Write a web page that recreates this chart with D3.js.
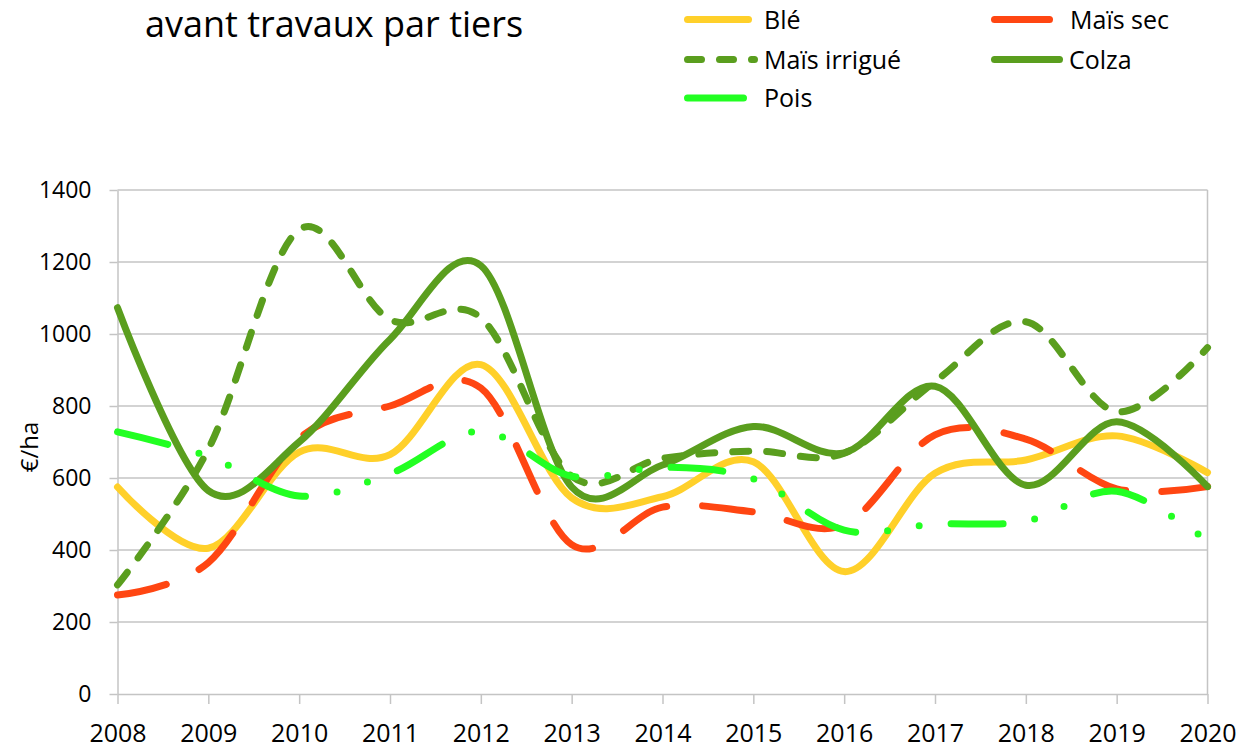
<!DOCTYPE html>
<html lang="fr">
<head>
<meta charset="utf-8">
<title>avant travaux par tiers</title>
<script src="https://cdn.jsdelivr.net/npm/d3@7"></script>
<style>
  body { margin: 0; background: #fff; }
  svg text { font-family: "Open Sans", sans-serif; fill: #000; }
</style>
</head>
<body>
<div id="chart"></div>
<script>
// Values (€/ha per year)
const years = [2008, 2009, 2010, 2011, 2012, 2013, 2014, 2015, 2016, 2017, 2018, 2019, 2020];
const ble = [575, 405, 672, 665, 915, 545, 548, 645, 340, 613, 650, 717, 615];
const maisSec = [275, 365, 710, 800, 850, 415, 519, 506, 470, 720, 708, 570, 576];
const maisIrrigue = [303, 680, 1290, 1040, 1045, 605, 655, 675, 669, 868, 1034, 784, 962];
const colza = [1073, 565, 700, 985, 1190, 575, 636, 743, 670, 855, 580, 756, 576];
const pois = [728, 660, 550, 612, 730, 605, 630, 598, 455, 472, 480, 563, 425];
const yTicks = [0, 200, 400, 600, 800, 1000, 1200, 1400];

const width = 1248;
const height = 751;
const plot = { left: 117.5, right: 1207.5, top: 190, bottom: 694 };
const gridColor = "#c4c4c4";

// one entry per series, in drawing order (last one ends on top)
const series = [
  { name: "Blé", values: ble, color: "#ffd02a", dash: null },
  { name: "Maïs sec", values: maisSec, color: "#ff4612", dash: "50,36" },
  { name: "Maïs irrigué", values: maisIrrigue, color: "#5a9e1e", dash: "16,18" },
  { name: "Colza", values: colza, color: "#5a9e1e", dash: null },
  { name: "Pois", values: pois, color: "#22ff22", dash: "52,32,0,32,0,32" }
];

// where each legend entry sits (line start/end, text start, row)
const legendLayout = [
  { x1: 687.5, x2: 748.5, tx: 764, y: 19.5 },
  { x1: 994.5, x2: 1049.5, tx: 1070, y: 19.5 },
  { x1: 687.5, x2: 754.5, tx: 764, y: 59.5 },
  { x1: 994.5, x2: 1059.5, tx: 1069, y: 59.5 },
  { x1: 687.5, x2: 743.5, tx: 764, y: 98 }
];

const svg = d3.select("#chart")
  .append("svg")
  .attr("width", width)
  .attr("height", height);

const x = d3.scaleLinear().domain([2008, 2020]).range([plot.left, plot.right]);
const y = d3.scaleLinear().domain([0, 1400]).range([plot.bottom, plot.top]);

// horizontal grid lines
svg.append("g")
  .selectAll("line")
  .data(yTicks.filter((d) => d > 0))
  .join("line")
  .attr("x1", plot.left)
  .attr("x2", plot.right)
  .attr("y1", (d) => y(d))
  .attr("y2", (d) => y(d))
  .attr("stroke", gridColor)
  .attr("stroke-width", 1.5);

// right edge of the plot
svg.append("line")
  .attr("x1", plot.right).attr("x2", plot.right)
  .attr("y1", plot.top).attr("y2", plot.bottom)
  .attr("stroke", gridColor)
  .attr("stroke-width", 1.5);

// y axis
const yAxis = svg.append("g")
  .attr("transform", `translate(${plot.left},0)`)
  .call(d3.axisLeft(y).tickValues(yTicks).tickFormat(d3.format("d"))
    .tickSize(8).tickSizeOuter(0).tickPadding(18));

// x axis
const xAxis = svg.append("g")
  .attr("transform", `translate(0,${plot.bottom})`)
  .call(d3.axisBottom(x).tickValues(years).tickFormat(d3.format("d"))
    .tickSize(10).tickSizeOuter(0).tickPadding(20));

[yAxis, xAxis].forEach((ax) => {
  ax.select(".domain").attr("stroke", gridColor).attr("stroke-width", 1.5);
  ax.selectAll(".tick line").attr("stroke", gridColor).attr("stroke-width", 1.5);
  ax.selectAll("text").attr("fill", "#000").style("font-family", "'Open Sans', sans-serif");
});
yAxis.selectAll("text").style("font-size", "23px");
xAxis.selectAll("text").style("font-size", "25px");

// y axis title
svg.append("text")
  .attr("transform", "translate(38,447) rotate(-90)")
  .attr("text-anchor", "middle")
  .style("font-size", "24px")
  .text("€/ha");

// chart title
svg.append("text")
  .attr("x", 145)
  .attr("y", 37)
  .style("font-size", "36px")
  .text("avant travaux par tiers");

// smoothed lines
const line = d3.line()
  .x((d, i) => x(years[i]))
  .y((d) => y(d))
  .curve(d3.curveCardinal.tension(0));

svg.append("g")
  .selectAll("path")
  .data(series)
  .join("path")
  .attr("d", (d) => line(d.values))
  .attr("fill", "none")
  .attr("stroke", (d) => d.color)
  .attr("stroke-width", 7)
  .attr("stroke-linecap", "round")
  .attr("stroke-linejoin", "round")
  .attr("stroke-dasharray", (d) => d.dash);

// legend
const legend = svg.append("g")
  .selectAll("g")
  .data(series)
  .join("g");

legend.append("line")
  .attr("x1", (d, i) => legendLayout[i].x1)
  .attr("x2", (d, i) => legendLayout[i].x2)
  .attr("y1", (d, i) => legendLayout[i].y)
  .attr("y2", (d, i) => legendLayout[i].y)
  .attr("stroke", (d) => d.color)
  .attr("stroke-width", 7)
  .attr("stroke-linecap", "round")
  .attr("stroke-dasharray", (d) => (d.name === "Maïs irrigué" ? "14,18" : null));

legend.append("text")
  .attr("x", (d, i) => legendLayout[i].tx)
  .attr("y", (d, i) => legendLayout[i].y + 9)
  .style("font-size", "25px")
  .text((d) => d.name);
</script>
</body>
</html>
